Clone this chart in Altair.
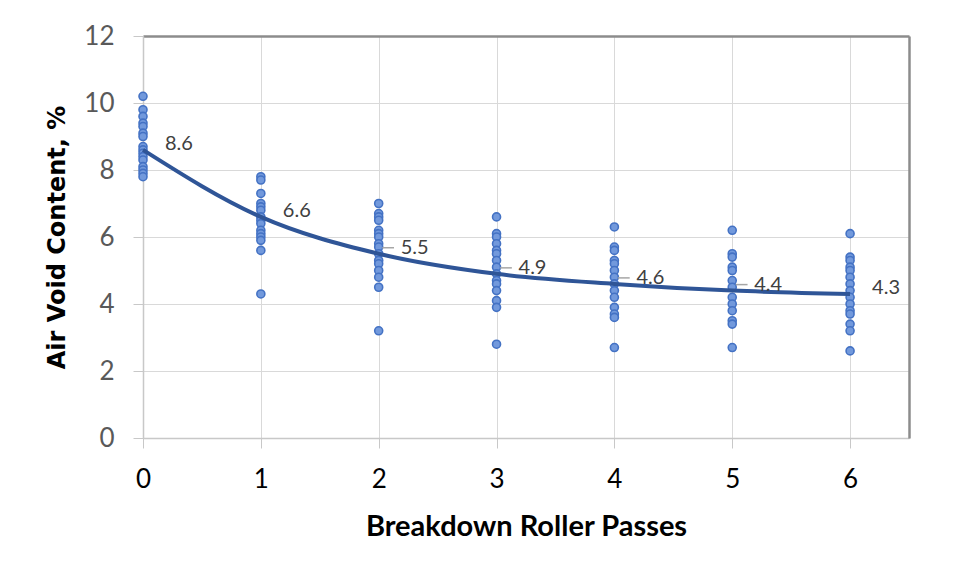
import altair as alt
import pandas as pd

passes = [0, 1, 2, 3, 4, 5, 6]
voids_0 = [10.2, 9.8, 9.6, 9.4, 9.3, 9.1, 9.0, 8.7, 8.6, 8.5, 8.4, 8.3, 8.1, 8.0, 7.9, 7.8]
voids_1 = [7.8, 7.7, 7.3, 7.0, 6.9, 6.8, 6.6, 6.5, 6.4, 6.2, 6.1, 6.0, 5.9, 5.6, 4.3]
voids_2 = [7.0, 6.7, 6.6, 6.5, 6.2, 6.1, 6.0, 5.8, 5.7, 5.5, 5.3, 5.2, 5.0, 4.8, 4.5, 3.2]
voids_3 = [6.6, 6.1, 6.0, 5.8, 5.6, 5.5, 5.3, 5.1, 4.9, 4.7, 4.6, 4.4, 4.1, 3.9, 2.8]
voids_4 = [6.3, 5.7, 5.6, 5.3, 5.2, 5.0, 4.8, 4.6, 4.4, 4.2, 3.9, 3.7, 3.6, 2.7]
voids_5 = [6.2, 5.5, 5.4, 5.1, 5.0, 4.7, 4.5, 4.2, 4.0, 3.8, 3.5, 3.4, 2.7]
voids_6 = [6.1, 5.4, 5.3, 5.1, 5.0, 4.8, 4.6, 4.4, 4.2, 4.0, 3.8, 3.7, 3.4, 3.2, 2.6]
trend = [8.6, 6.6, 5.5, 4.9, 4.6, 4.4, 4.3]
y_ticks = [0, 2, 4, 6, 8, 10, 12]

all_voids = [voids_0, voids_1, voids_2, voids_3, voids_4, voids_5, voids_6]
pts = pd.DataFrame(
    [{"pass": p, "void": v} for p, vals in zip(passes, all_voids) for v in vals]
)
tr = pd.DataFrame({"pass": passes, "void": trend})

FONT = "Lato"
xscale = alt.Scale(domain=[0, 6.5], nice=False, zero=True)
yscale = alt.Scale(domain=[0, 12], nice=False)

xaxis = alt.Axis(
    title="Breakdown Roller Passes",
    values=passes,
    format="d",
    grid=True,
    gridColor="#d9d9d9",
    tickColor="#c8c8c8",
    tickSize=10,
    domain=True,
    domainColor="#c8c8c8",
    domainWidth=1.5,
    labelFlush=False,
    labelFontSize=26,
    labelColor="#000000",
    labelFont=FONT,
    labelPadding=18,
    titleFont=FONT,
    titleFontSize=29,
    titleFontWeight="bold",
    titleColor="#000000",
    titlePadding=20,
)
yaxis = alt.Axis(
    title="Air Void Content, %",
    values=y_ticks,
    grid=True,
    gridColor="#d9d9d9",
    tickColor="#c8c8c8",
    tickSize=10,
    domain=True,
    domainColor="#c8c8c8",
    domainWidth=1.5,
    labelFlush=False,
    labelFontSize=26,
    labelColor="#595959",
    labelFont=FONT,
    labelPadding=19,
    titleFont="DejaVu Sans",
    titleFontSize=24,
    titleFontWeight="bold",
    titleColor="#000000",
    titlePadding=14,
)

points = alt.Chart(pts).mark_circle(
    size=64, color="#7299DC", opacity=1, stroke="#4472C4", strokeWidth=1.6
).encode(
    x=alt.X("pass:Q", scale=xscale, axis=xaxis),
    y=alt.Y("void:Q", scale=yscale, axis=yaxis),
)

line = alt.Chart(tr).mark_line(
    color="#2F5597", strokeWidth=4, interpolate="monotone"
).encode(
    x=alt.X("pass:Q", scale=xscale, axis=None),
    y=alt.Y("void:Q", scale=yscale, axis=None),
)

labels = alt.Chart(tr).mark_text(
    align="left", dx=22, dy=-6, fontSize=20, font=FONT, color="#404040"
).encode(
    x=alt.X("pass:Q", scale=xscale, axis=None),
    y=alt.Y("void:Q", scale=yscale, axis=None),
    text=alt.Text("void:Q", format=".1f"),
)

leaders = (
    alt.Chart(tr)
    .transform_filter("datum.pass >= 2 && datum.pass <= 5")
    .transform_calculate(x2="datum.pass + 0.13", xs="datum.pass + 0.03")
    .mark_rule(color="#a6a6a6", strokeWidth=1.5, yOffset=-6)
    .encode(
        x=alt.X("xs:Q", scale=xscale, axis=None),
        x2="x2:Q",
        y=alt.Y("void:Q", scale=yscale, axis=None),
    )
)

# top and right frame lines of the plot area (drawn as extra axes)
frame = alt.Chart(tr).mark_point(opacity=0).encode(
    x=alt.X(
        "pass:Q",
        scale=xscale,
        axis=alt.Axis(orient="top", labels=False, ticks=False, grid=False,
                      title=None, domainColor="#8c8c8c", domainWidth=2.5),
    ),
    y=alt.Y(
        "void:Q",
        scale=yscale,
        axis=alt.Axis(orient="right", labels=False, ticks=False, grid=False,
                      title=None, domainColor="#8c8c8c", domainWidth=2.5),
    ),
)

chart = (
    alt.layer(points, line, leaders, labels, frame)
    .resolve_axis(x="independent", y="independent")
    .properties(
        width=766,
        height=402,
        autosize=alt.AutoSizeParams(type="none"),
        padding={"left": 135, "top": 28, "right": 30, "bottom": 120},
    )
    .configure_view(stroke=None)
    .configure(background="white")
)

chart.save("out.html", embed_options={"renderer": "svg", "actions": False})
